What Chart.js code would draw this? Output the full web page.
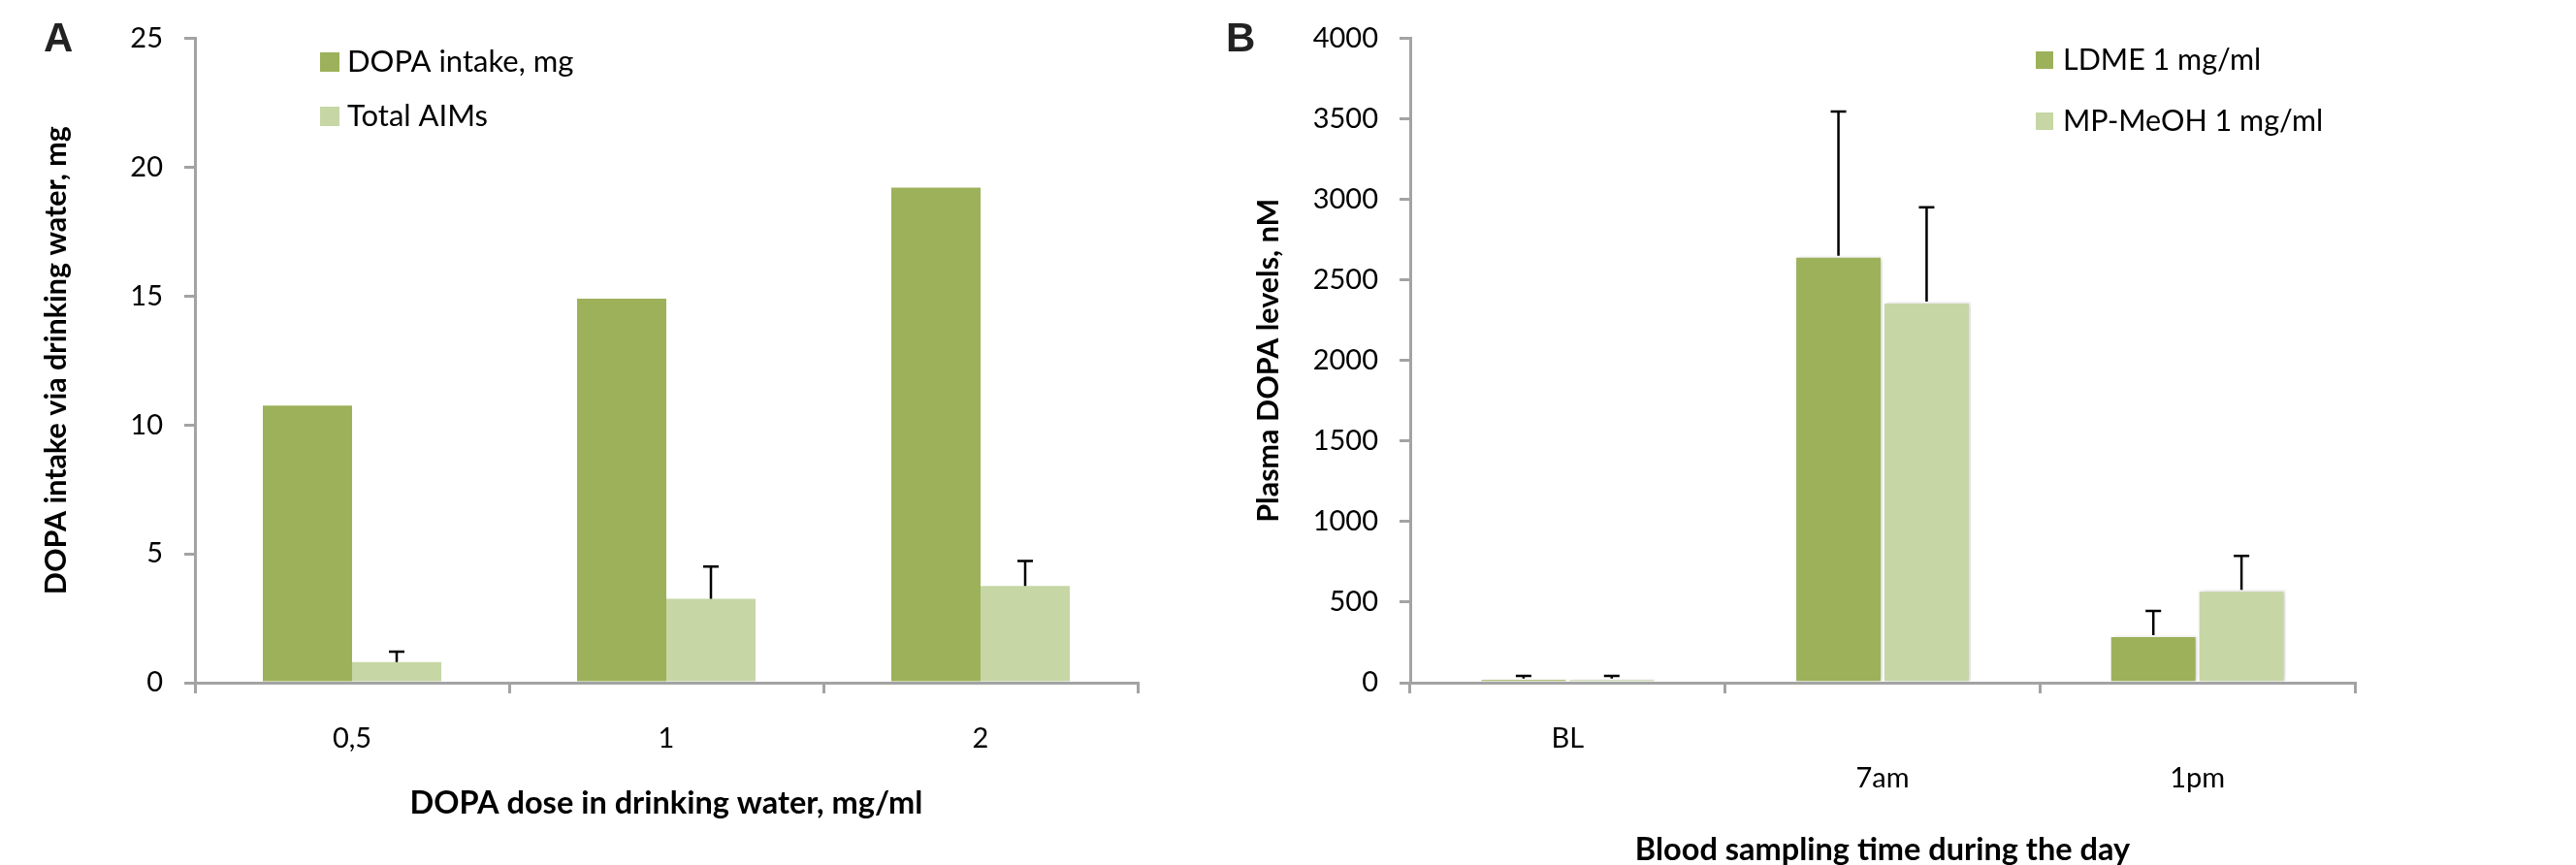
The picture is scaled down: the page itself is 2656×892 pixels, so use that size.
<!DOCTYPE html>
<html>
<head>
<meta charset="utf-8">
<script src="https://cdn.jsdelivr.net/npm/chart.js@4.4.1/dist/chart.umd.min.js"></script>
<style>
  html, body { margin: 0; padding: 0; background: #fff; }
  body { width: 2656px; height: 892px; position: relative; overflow: hidden; }
  .panel { position: absolute; top: 0; height: 892px; }
  #wrapA { left: 0; width: 1240px; }
  #wrapB { left: 1240px; width: 1416px; }
  .tag { position: absolute; top: 18px; font: bold 42px "Liberation Sans", Arial, sans-serif; line-height: 1; color: #222; }
</style>
</head>
<body>
<div class="panel" id="wrapA"><canvas id="chartA"></canvas></div>
<div class="panel" id="wrapB"><canvas id="chartB"></canvas></div>
<div class="tag" style="left:45px">A</div>
<div class="tag" style="left:1264px">B</div>

<script>
// Panel A: DOPA dose in drinking water
const doseLabels = ['0,5', '1', '2'];
const dopaIntake = [10.75, 14.9, 19.2];
const totalAims = [0.8, 3.25, 3.75];
const totalAimsErr = [0.4, 1.25, 0.97];

// Panel B: blood sampling time (7am / 1pm sit one line lower, as in the original)
const timeLabels = [['BL'], ['', '7am'], ['', '1pm']];
const ldme = [25, 2650, 295];
const ldmeErr = [17, 895, 150];
const mpMeoh = [25, 2365, 577];
const mpMeohErr = [17, 585, 210];

const darkGreen = '#9CB15A';
const lightGreen = '#C6D6A5';
const axisGray = '#a3a3a3';
const tickFont = { family: 'Lato', size: 29 };
const xTitleFont = { family: 'Lato', size: 32.5, weight: 'bold' };
const yTitleFont = { family: 'Lato', size: 30.5, weight: 'bold' };

// upper-only error bars with a small cap
const errorBars = {
  id: 'errorBars',
  afterDatasetsDraw(chart) {
    const ctx = chart.ctx;
    const y = chart.scales.y;
    chart.data.datasets.forEach((ds, i) => {
      if (!ds.errors) return;
      chart.getDatasetMeta(i).data.forEach((bar, j) => {
        const top = y.getPixelForValue(ds.data[j] + ds.errors[j]);
        ctx.save();
        ctx.strokeStyle = '#000';
        ctx.lineWidth = 2.5;
        ctx.beginPath();
        ctx.moveTo(bar.x, bar.y);
        ctx.lineTo(bar.x, top);
        ctx.moveTo(bar.x - 8, top);
        ctx.lineTo(bar.x + 8, top);
        ctx.stroke();
        ctx.restore();
      });
    });
  }
};

// legend drawn inside the plot, square swatches
const boxLegend = {
  id: 'boxLegend',
  afterDraw(chart, args, opts) {
    const ctx = chart.ctx;
    ctx.save();
    ctx.font = opts.font;
    ctx.textBaseline = 'middle';
    chart.data.datasets.forEach((ds, i) => {
      const cy = opts.y + i * opts.gap;
      ctx.fillStyle = ds.backgroundColor;
      ctx.fillRect(opts.x, cy - opts.box / 2, opts.box, opts.box);
      ctx.fillStyle = '#000';
      ctx.fillText(ds.label, opts.textX, cy);
    });
    ctx.restore();
  }
};

// soft shadow behind the bars of panel B
const barShadow = {
  id: 'barShadow',
  beforeDatasetsDraw(chart) {
    const ctx = chart.ctx;
    ctx.save();
    ctx.shadowColor = 'rgba(0,0,0,0.18)';
    ctx.shadowBlur = 5;
    ctx.shadowOffsetX = 2;
  },
  afterDatasetsDraw(chart) {
    chart.ctx.restore();
  }
};

function axes(yMax, yStep, xTitle, yTitle, yWidth, xTitlePad, yTitlePad, xTickFont, xTickPad) {
  return {
    x: {
      grid: { offset: true, drawOnChartArea: false, tickLength: 11, color: axisGray, lineWidth: 3 },
      border: { color: axisGray, width: 3 },
      ticks: { font: xTickFont, color: '#000', padding: xTickPad, maxRotation: 0 },
      title: { display: true, text: xTitle, font: xTitleFont, color: '#000', padding: { top: 0, bottom: xTitlePad } },
      afterFit: s => { s.height = 188; }
    },
    y: {
      min: 0,
      max: yMax,
      ticks: { stepSize: yStep, font: tickFont, color: '#000', padding: 22, callback: v => String(v) },
      grid: { drawOnChartArea: false, tickLength: 11, color: axisGray, lineWidth: 3 },
      border: { color: axisGray, width: 3 },
      title: { display: true, text: yTitle, font: yTitleFont, color: '#000', padding: { top: yTitlePad, bottom: 0 } },
      afterFit: s => { s.width = yWidth; }
    }
  };
}

new Chart(document.getElementById('chartA'), {
  type: 'bar',
  data: {
    labels: doseLabels,
    datasets: [
      { label: 'DOPA intake, mg', data: dopaIntake, backgroundColor: darkGreen, errors: null },
      { label: 'Total AIMs', data: totalAims, backgroundColor: lightGreen, errors: totalAimsErr }
    ]
  },
  options: {
    responsive: true,
    maintainAspectRatio: false,
    animation: false,
    datasets: { bar: { categoryPercentage: 0.568, barPercentage: 1, borderWidth: 0 } },
    layout: { padding: { left: 0, top: 38, right: 67, bottom: 0 } },
    scales: axes(25, 5, 'DOPA dose in drinking water, mg/ml', 'DOPA intake via drinking water, mg',
      201, 44, 40, tickFont, 29.6),
    plugins: {
      legend: { display: false },
      tooltip: { enabled: false },
      boxLegend: { x: 330, y: 64, gap: 56, box: 20, textX: 358, font: '31px Lato' }
    }
  },
  plugins: [errorBars, boxLegend]
});

new Chart(document.getElementById('chartB'), {
  type: 'bar',
  data: {
    labels: timeLabels,
    datasets: [
      { label: 'LDME 1 mg/ml', data: ldme, backgroundColor: darkGreen, errors: ldmeErr },
      { label: 'MP-MeOH 1 mg/ml', data: mpMeoh, backgroundColor: lightGreen, errors: mpMeohErr }
    ]
  },
  options: {
    responsive: true,
    maintainAspectRatio: false,
    animation: false,
    datasets: { bar: { categoryPercentage: 0.56, barPercentage: 1, borderWidth: 2, borderColor: '#fff' } },
    layout: { padding: { left: 0, top: 38, right: 228, bottom: 0 } },
    scales: axes(4000, 500, 'Blood sampling time during the day', 'Plasma DOPA levels, nM',
      214, -4, 50, { family: 'Lato', size: 29, lineHeight: 41 / 29 }, 26.5),
    plugins: {
      legend: { display: false },
      tooltip: { enabled: false },
      boxLegend: { x: 859, y: 62, gap: 63, box: 18, textX: 887, font: '30.5px Lato' }
    }
  },
  plugins: [barShadow, errorBars, boxLegend]
});
</script>
</body>
</html>
